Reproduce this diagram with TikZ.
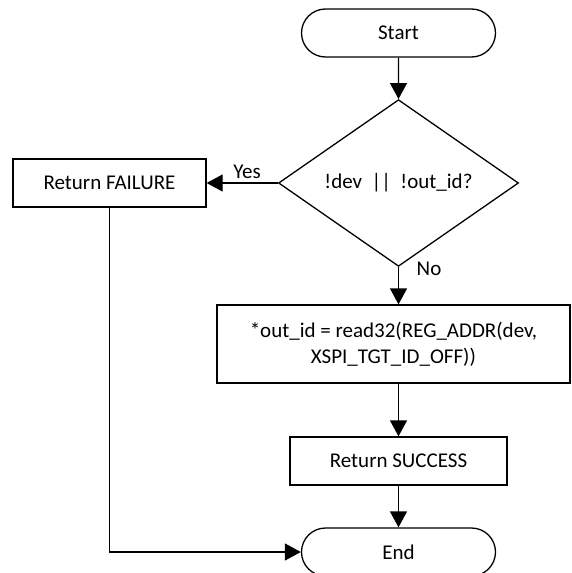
\documentclass[tikz,border=0pt]{standalone}
\usepackage{fontspec}
\setmainfont{Carlito}
\usetikzlibrary{shapes.geometric,shapes.misc,arrows.meta}
\begin{document}
\begin{tikzpicture}[x=1pt,y=-1pt,
  every node/.style={font=\fontsize{21}{26}\selectfont},
  base/.style={draw=black,line width=1.3pt,inner sep=0pt,align=center},
  term/.style={base,rounded rectangle,minimum width=194pt,minimum height=48pt},
  proc/.style={base,rectangle,minimum height=48pt},
  decision/.style={base,diamond,minimum width=240pt,minimum height=142pt},
  conn/.style={line width=1.3pt,-{Triangle[width=17pt,length=16pt]}},
  lbl/.style={inner sep=0pt}]
\useasboundingbox (0,0) rectangle (571,573);
\clip (0,0) rectangle (571,573);
\node[term] (start) at (398.5,33) {Start};
\node[decision] (dec) at (398.5,183) {!dev \ || \ !out\_id?};
\node[proc,minimum width=193pt] (fail) at (109.5,183) {Return FAILURE};
\node[proc,minimum width=353pt,minimum height=78pt] (read) at (393.5,344) {*out\_id = read32(REG\_ADDR(dev,\\XSPI\_TGT\_ID\_OFF))};
\node[proc,minimum width=217pt] (succ) at (398.5,461) {Return SUCCESS};
\node[term] (end) at (398.5,552) {End};
\node[lbl] (yes) at (247,172) {Yes};
\node[lbl] (no) at (429,269) {No};
\coordinate (corner) at (fail.south |- end.west);
\draw[conn] (start) -- (dec);
\draw[conn] (dec.west) -- (fail.east);
\draw[conn] (dec.south) -- (dec.south |- read.north);
\draw[conn] (read.south -| succ.north) -- (succ.north);
\draw[conn] (succ) -- (end);
\draw[conn] (fail.south) -- (corner) -- (end.west);
\end{tikzpicture}
\end{document}
